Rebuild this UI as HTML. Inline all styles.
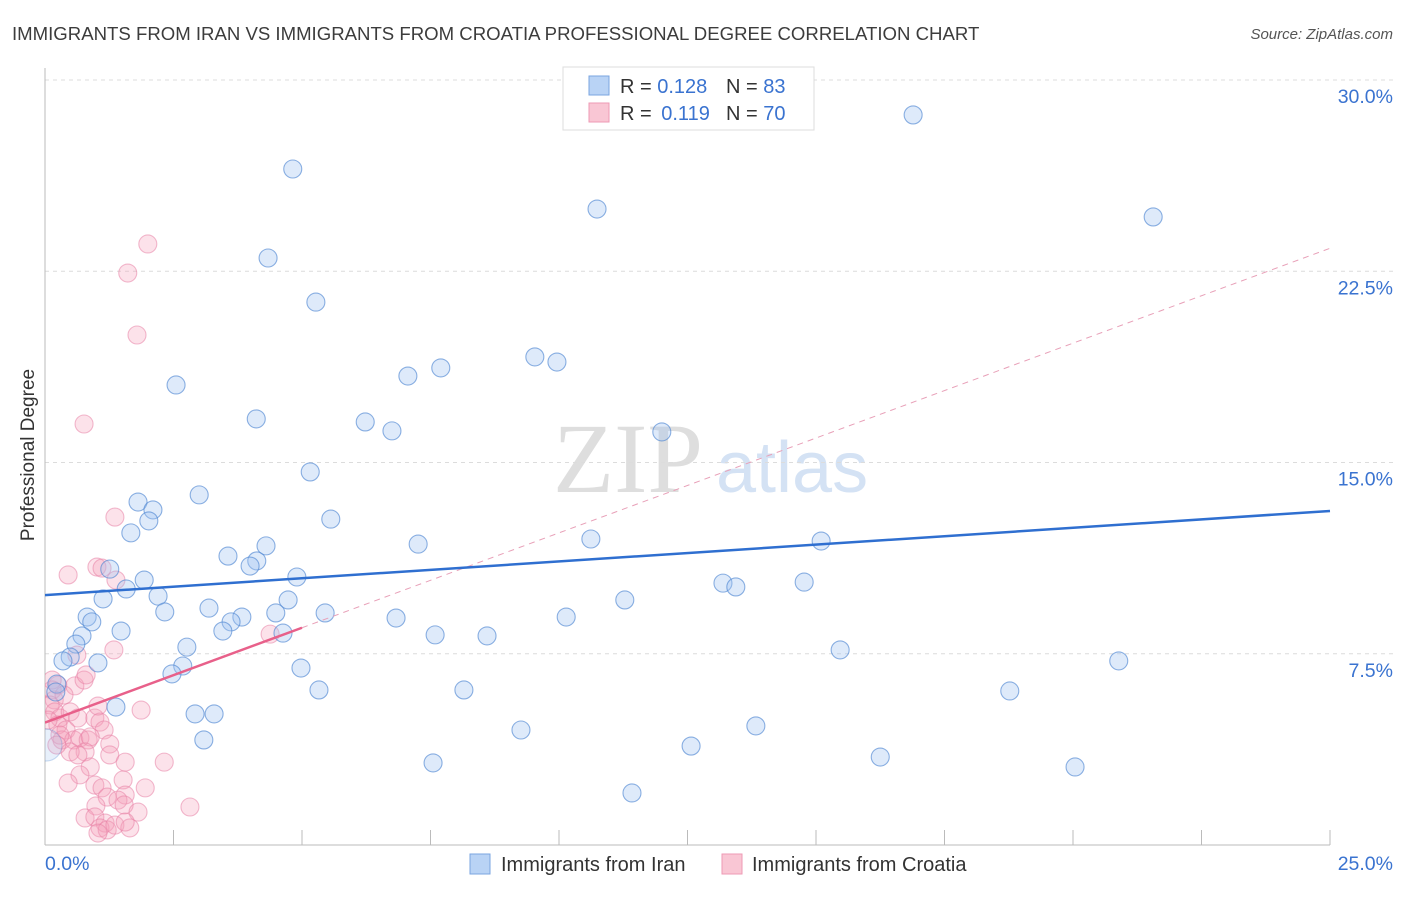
<!DOCTYPE html>
<html><head><meta charset="utf-8"><style>
body{margin:0;background:#fff;font-family:"Liberation Sans",sans-serif}
svg text{font-family:"Liberation Sans",sans-serif}
</style></head><body>
<svg width="1406" height="892" xmlns="http://www.w3.org/2000/svg">
<defs><clipPath id="plotclip"><rect x="45" y="60" width="1360" height="785"/></clipPath></defs>
<text x="12" y="40" font-size="18.6" fill="#3c3c3c">IMMIGRANTS FROM IRAN VS IMMIGRANTS FROM CROATIA PROFESSIONAL DEGREE CORRELATION CHART</text>
<text x="1393" y="39" font-size="15" fill="#555" font-style="italic" text-anchor="end">Source: ZipAtlas.com</text>
<g>
<text x="553" y="492" font-size="100" fill="#dedede" font-family="Liberation Serif" style="font-family:'Liberation Serif',serif">ZIP</text>
<text x="716" y="492" font-size="72" fill="#d4e2f4">atlas</text>
</g>
<g id="grid"></g><g id="axes"></g><g id="marks" clip-path="url(#plotclip)"></g>
<text transform="translate(34,455) rotate(-90)" font-size="19" fill="#333" text-anchor="middle">Professional Degree</text>
<g>
<rect x="563" y="67" width="251" height="63" fill="#fff" stroke="#ddd"/>
<rect x="589" y="76" width="20" height="19" fill="#b9d3f5" stroke="#7aa5e0"/>
<rect x="589" y="103" width="20" height="19" fill="#f9c6d4" stroke="#ee9ab4"/>
<text x="620" y="93" font-size="20" fill="#333">R = <tspan fill="#3a73d0">0.128</tspan></text>
<text x="726" y="93" font-size="20" fill="#333">N = <tspan fill="#3a73d0">83</tspan></text>
<text x="620" y="120" font-size="20" fill="#333">R = <tspan fill="#3a73d0" dx="4">0.119</tspan></text>
<text x="726" y="120" font-size="20" fill="#333">N = <tspan fill="#3a73d0">70</tspan></text>
</g>
<g>
<rect x="470" y="854" width="20" height="20" fill="#b9d3f5" stroke="#7aa5e0"/>
<text x="501" y="871" font-size="20" fill="#333">Immigrants from Iran</text>
<rect x="722" y="854" width="20" height="20" fill="#f9c6d4" stroke="#ee9ab4"/>
<text x="752" y="871" font-size="20" fill="#333">Immigrants from Croatia</text>
</g>
</svg>
<script>
const yTicks=[7.5,15,22.5,30];
const yTickLabels=["7.5%","15.0%","22.5%","30.0%"];
const xTickLabels=["0.0%","25.0%"];
const blueX=[4.82,10.74,16.89,21.56,4.34,5.27,9.53,9.96,7.06,7.70,2.55,4.11,6.23,6.75,12.00,5.16,3.00,1.81,2.10,2.02,5.56,1.67,7.26,10.62,15.10,4.30,3.56,4.12,3.99,1.26,1.93,4.90,1.58,13.19,13.44,14.77,2.20,1.13,4.73,11.28,2.33,3.19,4.49,5.45,0.82,0.91,3.83,3.62,6.83,10.14,1.48,3.46,4.63,7.59,8.60,0.72,0.60,2.76,15.47,0.49,0.35,1.03,2.68,20.89,2.47,4.98,0.23,5.33,8.15,18.77,1.38,2.92,3.29,13.83,9.26,3.09,12.57,16.25,7.55,20.04,11.42,0.02,0.21];
const blueY=[26.51,24.94,28.63,24.63,23.02,21.29,19.14,18.94,18.39,18.71,18.04,16.71,16.59,16.24,16.20,14.63,13.73,13.45,13.14,12.71,12.78,12.24,11.80,12.00,11.92,11.73,11.33,11.14,10.94,10.82,10.39,10.51,10.04,10.27,10.12,10.31,9.76,9.65,9.61,9.61,9.14,9.29,9.10,9.10,8.94,8.75,8.94,8.75,8.90,8.94,8.39,8.39,8.31,8.24,8.20,8.20,7.88,7.76,7.65,7.37,7.22,7.14,7.02,7.22,6.71,6.94,6.31,6.08,6.08,6.04,5.41,5.14,5.14,4.67,4.51,4.12,3.88,3.45,3.22,3.06,2.04,3.92,6.00];
const pinkX=[2.00,1.61,1.79,0.76,1.36,0.45,1.01,1.11,1.38,0.25,0.14,0.58,0.76,0.80,0.62,1.34,4.38,0.18,0.10,0.19,0.29,0.49,0.64,0.97,1.07,1.03,1.87,1.15,0.25,0.41,0.33,0.56,0.68,0.84,0.88,1.26,0.78,0.49,0.64,1.26,1.56,2.32,0.88,0.68,0.45,0.97,1.52,1.11,1.56,1.95,1.21,1.42,0.99,1.54,2.82,0.78,1.81,0.97,1.17,1.07,1.21,1.36,1.65,1.03,1.56,0.29,0.06,0.37,0.14,0.23];
const pinkY=[23.57,22.43,20.0,16.51,12.86,10.59,10.90,10.86,10.39,6.27,6.08,6.24,6.47,6.67,7.45,7.65,8.27,5.69,5.49,5.22,4.98,5.22,4.98,4.98,4.82,5.45,5.29,4.51,4.71,4.51,4.12,4.12,4.20,4.12,4.24,3.96,3.65,3.65,3.53,3.53,3.25,3.25,3.06,2.75,2.43,2.35,2.55,2.24,1.96,2.24,1.88,1.76,1.53,1.57,1.49,1.06,1.29,1.10,0.86,0.67,0.59,0.78,0.67,0.47,0.90,4.31,4.90,5.88,6.47,3.92];
const blueTrend=[9.8,13.1];
const pinkTrend=[4.8,23.4];
const NS="http://www.w3.org/2000/svg";
const X0=45,X1=1330,Y0=845,Y1=80;
const sx=v=>X0+v/25*(X1-X0), sy=v=>Y0-v/30*(Y0-Y1);
function mk(p,tag,a){const e=document.createElementNS(NS,tag);for(const k in a)e.setAttribute(k,a[k]);p.appendChild(e);return e;}
const grid=document.getElementById('grid'),axes=document.getElementById('axes'),marks=document.getElementById('marks');
yTicks.forEach((t,i)=>{
 const g=mk(grid,'line',{x1:X0,x2:1393,y1:sy(t),y2:sy(t),stroke:'#dcdcdc','stroke-dasharray':'4,4'});
 
 
 const l=mk(axes,'text',{x:1393,y:sy(t)+23,'font-size':19.5,fill:'#3a73d0','text-anchor':'end'});
 l.textContent=yTickLabels[i];
 
 
});
const ya=mk(axes,'line',{x1:X0,x2:X0,y1:68,y2:Y0,stroke:'#bbb'});


const xa=mk(axes,'line',{x1:X0,x2:X1,y1:Y0,y2:Y0,stroke:'#bbb'});


for(let i=1;i<=10;i++){const t=mk(axes,'line',{x1:sx(i*2.5),x2:sx(i*2.5),y1:830,y2:Y0,stroke:'#bbb'});
 
 }
[[0,'start',45],[1,'end',1393]].forEach(([i,a,x])=>{const l=mk(axes,'text',{x:x,y:870,'font-size':19.5,fill:'#3a73d0','text-anchor':a});l.textContent=xTickLabels[i];
 
 });
pinkX.forEach((v,i)=>{const c=mk(marks,'circle',{cx:sx(v),cy:sy(pinkY[i]),r:9,fill:'rgba(244,160,185,0.3)',stroke:'rgba(232,130,165,0.55)','stroke-width':1.1});
 
 });
blueX.forEach((v,i)=>{const big=(i==81);const c=mk(marks,'circle',{cx:sx(v),cy:sy(blueY[i]),r:(big?16:9),fill:big?'rgba(160,195,240,0.25)':'rgba(160,195,240,0.35)',stroke:big?'rgba(80,135,210,0.3)':'rgba(80,135,210,0.65)','stroke-width':1.1});
 
 });
const pAt=x=>pinkTrend[0]+(pinkTrend[1]-pinkTrend[0])*x/25;
const pd=mk(marks,'line',{x1:sx(5),y1:sy(pAt(5)),x2:sx(25),y2:sy(pAt(25)),stroke:'#e8a0b8','stroke-dasharray':'6,5','stroke-width':1});


const ps=mk(marks,'line',{x1:sx(0),y1:sy(pAt(0)),x2:sx(5),y2:sy(pAt(5)),stroke:'#e8608a','stroke-width':2.5});


const bl=mk(marks,'line',{x1:sx(0),y1:sy(blueTrend[0]),x2:sx(25),y2:sy(blueTrend[1]),stroke:'#2f6fd0','stroke-width':2.5});


</script>
</body></html>
